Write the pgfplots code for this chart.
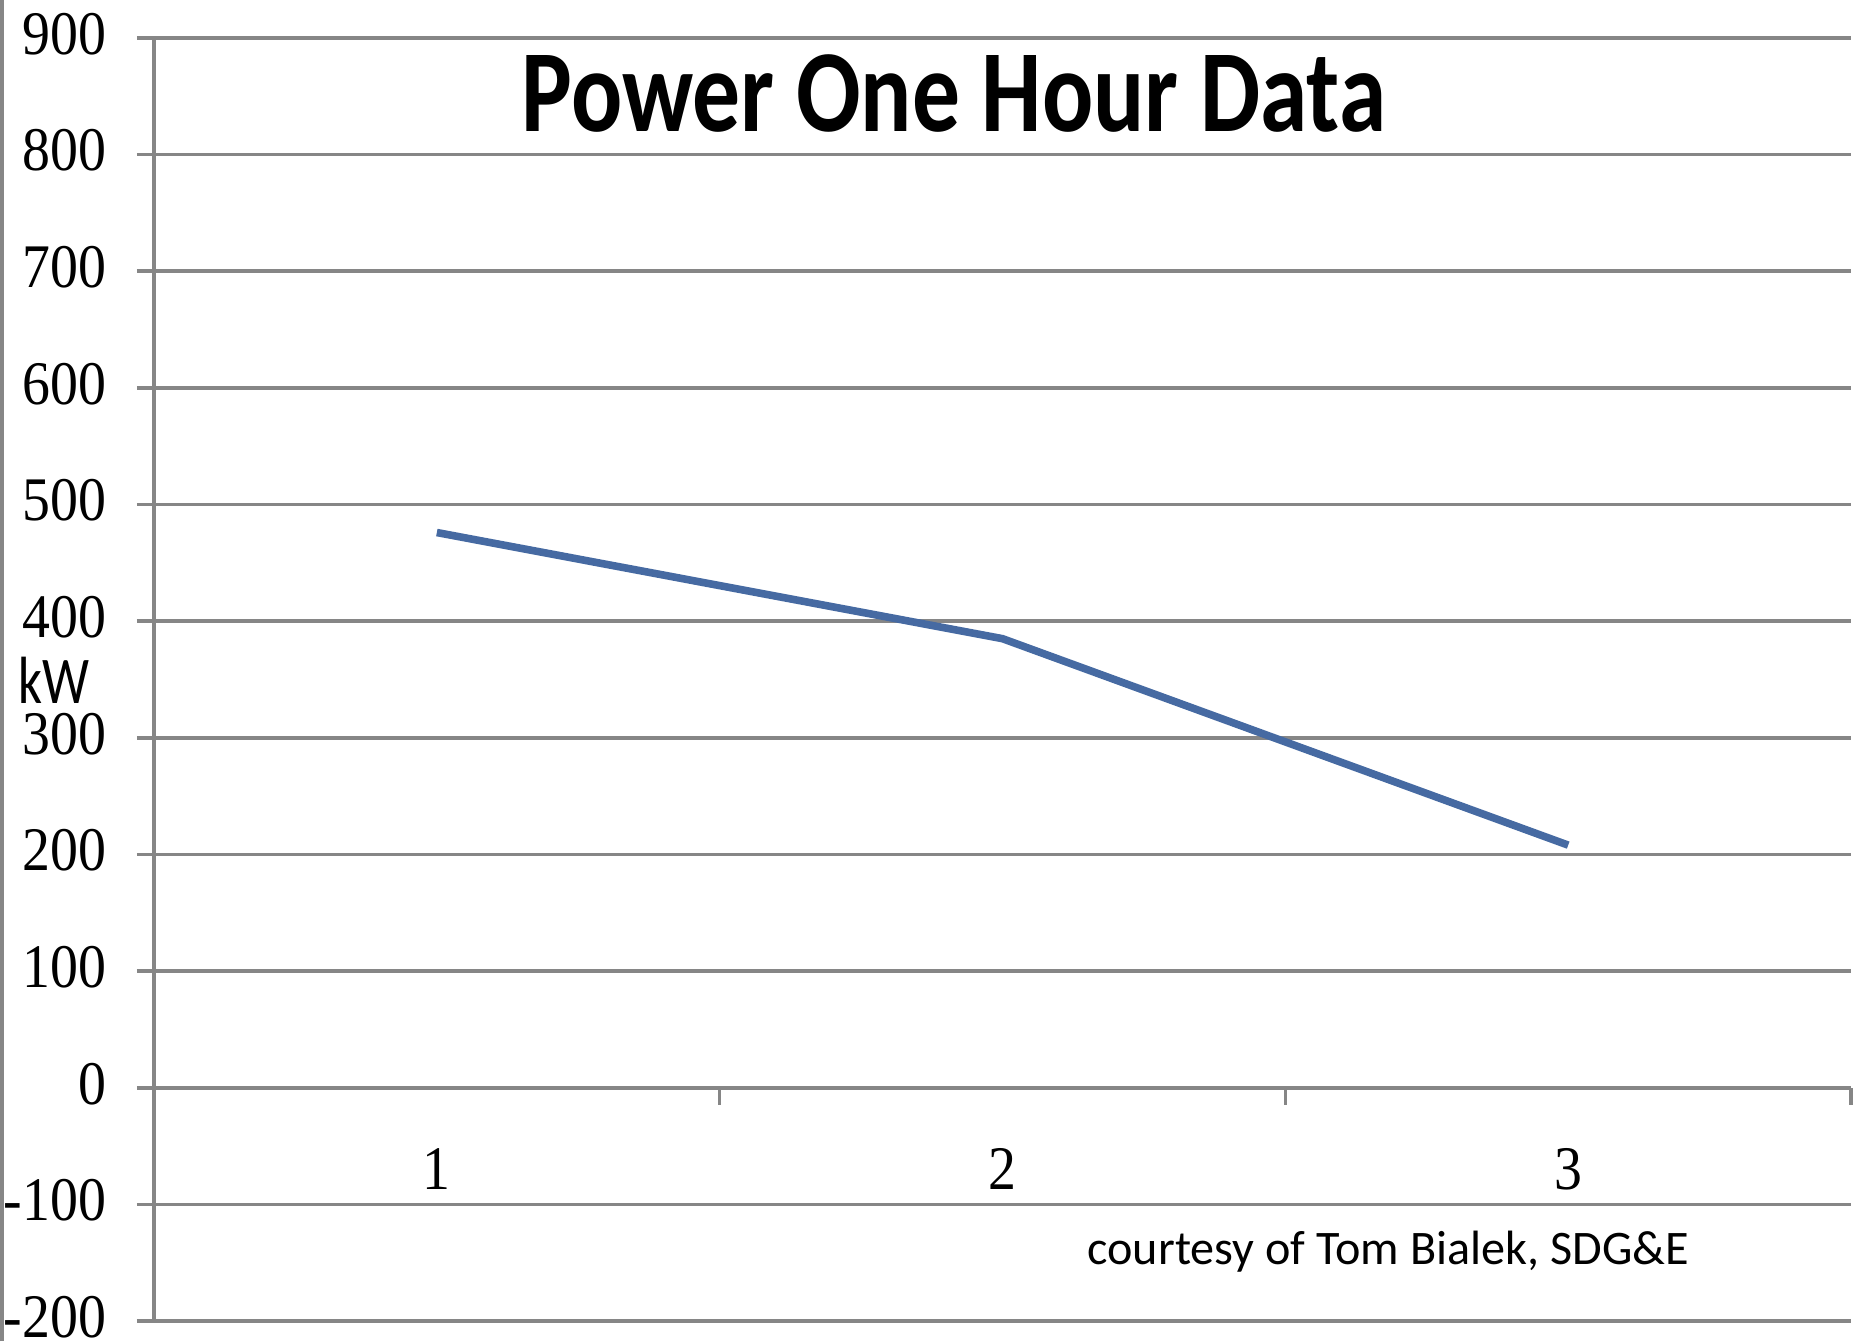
\documentclass[border=0pt]{standalone}
\usepackage{pgfplots}
\pgfplotsset{compat=1.18}
\usepackage{fontspec}
\setmainfont{Liberation Serif}
\newfontfamily\numfont[FakeStretch=0.90]{Liberation Serif}
\newfontfamily\titlefont[FakeStretch=0.815]{Carlito}
\newfontfamily\unitfont[FakeStretch=0.79]{Carlito}
\newfontfamily\notefont{Carlito}
\definecolor{gridgray}{RGB}{134,134,134}
\definecolor{lineblue}{RGB}{70,106,162}

\begin{document}
\begin{tikzpicture}
\begin{axis}[
  scale only axis,
  width=424.25pt, height=320.75pt,
  xmin=0.5, xmax=3.5, ymin=-200, ymax=900,
  axis x line=middle, axis y line=left,
  axis line style={gridgray, line width=0.9pt, -},
  tick align=outside,
  major tick length=4.25pt,
  tick style={gridgray, line width=0.9pt},
  ytick={-200,-100,0,100,200,300,400,500,600,700,800,900},
  yticklabels={-200,-100,0,100,200,300,400,500,600,700,800,900},
  yticklabel style={font=\numfont\fontsize{15.5}{15.5}\selectfont, anchor=east, inner sep=0pt, xshift=-7.5pt, yshift=1.0pt},
  ymajorgrids,
  grid style={gridgray, line width=0.9pt},
  xtick={0.5,1.5,2.5,3.5},
  xticklabels={},
  extra x ticks={1,2,3},
  extra x tick labels={1,2,3},
  extra x tick style={tick style={draw=none}},
  xticklabel style={font=\numfont\fontsize{15.5}{15.5}\selectfont, anchor=north, inner sep=0pt, yshift=-10.8pt},
  clip=false,
]
\addplot[lineblue, line width=1.9pt, mark=none] coordinates {(1,476) (2,385) (3,208)};

\node[anchor=base west, inner sep=0pt, font=\titlefont\bfseries\fontsize{29.3}{29.3}\selectfont]
  at (axis cs:1.149,819.6) {Power One Hour Data};
\node[anchor=base west, inner sep=0pt, font=\unitfont\fontsize{16.7}{16.7}\selectfont]
  at ([xshift=-34pt]axis cs:0.5,329.2) {kW};
\node[anchor=base west, inner sep=0pt, font=\notefont\fontsize{12.04}{12.04}\selectfont]
  at (axis cs:2.149,-151.7) {courtesy of Tom Bialek, SDG\&E};

\coordinate (sw) at (rel axis cs:0,0);
\coordinate (ne) at (rel axis cs:1,1);
\end{axis}
% page edge rule on the left
\draw[gridgray, line width=0.9pt] ([xshift=-38.05pt,yshift=-5pt]sw) -- ([xshift=-38.05pt,yshift=9.5pt]sw |- ne);
\pgfresetboundingbox
\path ([xshift=-38.5pt,yshift=-5pt]sw) rectangle ([xshift=0.75pt,yshift=9.5pt]ne);
\end{tikzpicture}
\end{document}
